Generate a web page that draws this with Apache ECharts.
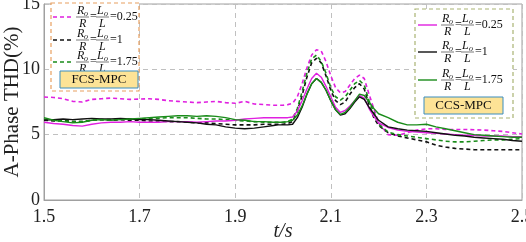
<!DOCTYPE html>
<html>
<head>
<meta charset="utf-8">
<script src="https://cdn.jsdelivr.net/npm/echarts@6/dist/echarts.min.js"></script>
<style>
  html, body { margin: 0; padding: 0; background: #fff; }
  #chart { width: 526px; height: 242px; }
</style>
</head>
<body>
<div id="chart"></div>
<script>
// time axis (s)
const times = [
  1.5, 1.52, 1.54, 1.56, 1.58, 1.6, 1.62, 1.64, 1.66, 1.68, 1.7, 1.72, 1.74, 1.76, 1.78, 1.8, 1.82, 1.84, 1.86, 1.88, 1.9, 1.92, 1.94, 1.96, 1.98,
  1.99, 2, 2.01, 2.02, 2.03, 2.04, 2.05, 2.06, 2.07, 2.08, 2.09, 2.1, 2.11, 2.12, 2.13, 2.14, 2.15, 2.16, 2.17, 2.18, 2.19, 2.2,
  2.22, 2.24, 2.26, 2.28, 2.3, 2.32, 2.34, 2.36, 2.38, 2.4, 2.42, 2.44, 2.46, 2.48, 2.5
];

// FCS-MPC (dashed)
const fcs025 = [
  7.88, 7.85, 7.75, 7.55, 7.5, 7.7, 7.75, 7.8, 7.75, 7.7, 7.72, 7.75, 7.7, 7.6, 7.55, 7.5, 7.45, 7.5, 7.55, 7.45, 7.4, 7.55, 7.35, 7.3, 7.25,
  7.25, 7.25, 7.3, 7.4, 7.9, 8.9, 10.1, 11.1, 11.5, 11.4, 10.6, 9.5, 8.6, 8.2, 8.3, 8.8, 9.3, 9.55, 9.3, 8.1, 7.0, 5.9,
  5.0, 4.95, 5.15, 5.35, 5.45, 5.45, 5.4, 5.4, 5.4, 5.38, 5.35, 5.3, 5.25, 5.15, 5.05
];
const fcs1 = [
  6.1, 6.05, 6.1, 6.0, 6.0, 6.1, 6.15, 6.1, 6.15, 6.1, 6.1, 6.05, 6.05, 6.0, 6.0, 5.95, 5.9, 5.9, 5.85, 5.8, 5.75, 5.75, 5.75, 5.8, 5.8,
  5.8, 5.8, 5.85, 6.0, 6.8, 8.0, 9.4, 10.5, 10.85, 10.5, 9.5, 8.4, 7.6, 7.3, 7.5, 8.1, 8.6, 8.9, 8.5, 7.3, 6.3, 5.7,
  5.15, 4.9, 4.75, 4.6, 4.45, 4.2, 4.05, 3.95, 3.9, 3.85, 3.85, 3.85, 3.85, 3.85, 3.85
];
const fcs175 = [
  6.2, 6.1, 6.05, 6.0, 6.0, 6.1, 6.15, 6.15, 6.2, 6.2, 6.2, 6.25, 6.25, 6.3, 6.3, 6.3, 6.25, 6.2, 6.2, 6.15, 6.1, 6.05, 6.0, 5.95, 5.95,
  5.95, 5.95, 6.0, 6.2, 7.0, 8.3, 9.7, 10.8, 11.1, 10.6, 9.7, 8.6, 7.9, 7.65, 7.9, 8.4, 8.9, 9.15, 8.8, 7.6, 6.7, 5.8,
  5.2, 5.0, 4.9, 4.8, 4.7, 4.6, 4.5, 4.45, 4.45, 4.5, 4.55, 4.6, 4.6, 4.65, 4.7
];

// CCS-MPC (solid)
const ccs025 = [
  5.95, 5.85, 5.8, 5.7, 5.65, 5.8, 5.9, 5.95, 5.95, 6.0, 5.95, 5.95, 5.95, 6.0, 6.0, 6.0, 5.95, 6.0, 6.05, 6.05, 6.1, 6.2, 6.25, 6.3, 6.3,
  6.3, 6.3, 6.3, 6.35, 6.8, 7.6, 8.5, 9.3, 9.7, 9.4, 8.7, 7.9, 7.1, 6.7, 6.85, 7.2, 7.6, 8.0, 7.8, 7.0, 6.4, 5.9,
  5.55, 5.35, 5.25, 5.2, 5.15, 5.1, 5.05, 5.0, 4.95, 4.95, 4.9, 4.9, 4.9, 4.85, 4.85
];
const ccs1 = [
  6.1, 6.15, 6.2, 6.15, 6.2, 6.25, 6.2, 6.2, 6.25, 6.2, 6.15, 6.15, 6.1, 6.05, 6.0, 5.95, 5.9, 5.8, 5.75, 5.6, 5.5, 5.45, 5.5, 5.6, 5.7,
  5.75, 5.75, 5.75, 5.8, 6.3, 7.1, 8.1, 8.9, 9.3, 9.0, 8.4, 7.6, 6.9, 6.5, 6.6, 7.0, 7.5, 7.9, 7.7, 7.1, 6.6, 6.1,
  5.6, 5.45, 5.35, 5.3, 5.25, 5.15, 5.05, 4.95, 4.9, 4.8, 4.75, 4.7, 4.65, 4.55, 4.5
];
const ccs175 = [
  6.3, 6.1, 6.0, 5.9, 5.95, 6.1, 6.15, 6.1, 6.15, 6.2, 6.25, 6.3, 6.35, 6.4, 6.45, 6.45, 6.4, 6.45, 6.4, 6.3, 6.15, 6.1, 6.0, 6.0, 5.95,
  5.95, 5.95, 6.0, 6.1, 6.5, 7.2, 8.1, 8.9, 9.3, 9.0, 8.4, 7.6, 6.9, 6.55, 6.7, 7.1, 7.6, 8.1, 8.0, 7.5, 7.0, 6.6,
  6.3, 5.95, 5.75, 5.75, 5.8, 5.6, 5.45, 5.3, 5.15, 5.0, 4.95, 4.9, 4.85, 4.8, 4.8
];

const ratios = ['0.25', '1', '1.75'];
const xTicks = [1.5, 1.7, 1.9, 2.1, 2.3, 2.5];
const colors = ['#e020e0', '#111111', '#1a8c1a'];

const SERIF = 'Liberation Serif';

function pairs(values) {
  return times.map((t, i) => [t, values[i]]);
}

function makeSeries(name, values, color, dashed) {
  return {
    name: name,
    type: 'line',
    data: pairs(values),
    showSymbol: false,
    smooth: false,
    lineStyle: {
      color: color,
      width: dashed ? 1.6 : 1.4,
      type: dashed ? [4, 3] : 'solid',
    },
  };
}

// one legend row: line sample + Ro/R = Lo/L = k
function legendEntry(x0, yc, color, dashed, ratio) {
  const italic = { fontFamily: SERIF, fontStyle: 'italic', fontSize: 12, fill: '#111' };
  const els = [
    {
      type: 'line',
      shape: { x1: x0, y1: yc, x2: x0 + 19, y2: yc },
      style: { stroke: color, lineWidth: dashed ? 1.6 : 1.4, lineDash: dashed ? [4, 3] : null },
    },
  ];
  [['R', x0 + 24], ['L', x0 + 44]].forEach(([s, fx]) => {
    els.push({ type: 'text', x: fx, y: yc - 0.5, style: Object.assign({ text: s, verticalAlign: 'bottom' }, italic) });
    els.push({ type: 'text', x: fx + 7, y: yc + 0.5, style: { text: 'o', fontFamily: SERIF, fontStyle: 'italic', fontSize: 8, fill: '#111', verticalAlign: 'bottom' } });
    els.push({ type: 'line', shape: { x1: fx - 1, y1: yc, x2: fx + 12, y2: yc }, style: { stroke: '#222', lineWidth: 0.6 } });
    els.push({ type: 'text', x: fx + 2, y: yc + 0.5, style: Object.assign({ text: s, verticalAlign: 'top' }, italic) });
  });
  els.push({ type: 'text', x: x0 + 37, y: yc, style: { text: '=', fontFamily: SERIF, fontSize: 12, fill: '#111', verticalAlign: 'middle' } });
  els.push({ type: 'text', x: x0 + 57, y: yc, style: { text: '=' + ratio, fontFamily: SERIF, fontSize: 12, fill: '#111', verticalAlign: 'middle' } });
  return els;
}

function legendBox(x, y, w, h, stroke, rows, x0, tag, tagBox) {
  let els = [
    { type: 'rect', shape: { x: x, y: y, width: w, height: h }, style: { fill: '#fff', stroke: stroke, lineWidth: 1.2, lineDash: [4, 3] } },
  ];
  rows.forEach((r, i) => {
    els = els.concat(legendEntry(x0, r.y, colors[i], r.dashed, ratios[i]));
  });
  els.push({
    type: 'rect',
    shape: tagBox,
    style: { fill: '#fde396', stroke: '#3b8dbf', lineWidth: 1 },
  });
  els.push({
    type: 'text',
    x: tagBox.x + tagBox.width / 2,
    y: tagBox.y + tagBox.height / 2,
    style: { text: tag, fontFamily: SERIF, fontSize: 13, fill: '#111', align: 'center', verticalAlign: 'middle' },
  });
  return els;
}

const chart = echarts.init(document.getElementById('chart'));

const graphics = [].concat(
  legendBox(51, 3, 88, 88, '#e8a060',
    [{ y: 17, dashed: true }, { y: 40, dashed: true }, { y: 62, dashed: true }],
    53, 'FCS-MPC', { x: 60, y: 71, width: 78, height: 17 }),
  legendBox(415, 9, 98, 109, '#a9b373',
    [{ y: 25, dashed: false }, { y: 52, dashed: false }, { y: 80, dashed: false }],
    418, 'CCS-MPC', { x: 424, y: 97, width: 79, height: 17 })
);

const option = {
  animation: false,
  backgroundColor: '#fff',
  grid: {
    left: 44,
    right: 4,
    top: 4,
    bottom: 42,
    containLabel: false,
    outerBoundsMode: 'none',
    show: true,
    borderColor: '#a0a0a0',
    borderWidth: 1,
  },
  xAxis: {
    type: 'value',
    min: 1.5,
    max: 2.5,
    name: 't/s',
    nameLocation: 'middle',
    nameGap: 22,
    nameMoveOverlap: false,
    nameTextStyle: { fontFamily: SERIF, fontStyle: 'italic', fontSize: 20, color: '#222' },
    axisLine: { lineStyle: { color: '#a0a0a0' } },
    axisTick: { show: false, customValues: xTicks },
    axisLabel: {
      customValues: xTicks,
      fontFamily: SERIF,
      fontSize: 18,
      color: '#222',
      margin: 8,
      formatter: (v) => v.toFixed(1),
    },
    splitLine: { show: true, lineStyle: { color: '#c0c0c0', type: [5, 4] } },
  },
  yAxis: {
    type: 'value',
    min: 0,
    max: 15,
    interval: 5,
    name: 'A-Phase THD(%)',
    nameLocation: 'middle',
    nameGap: 21,
    nameMoveOverlap: false,
    nameTextStyle: { fontFamily: SERIF, fontSize: 21, color: '#222' },
    axisLine: { show: true, lineStyle: { color: '#a0a0a0' } },
    axisTick: { show: false },
    axisLabel: { fontFamily: SERIF, fontSize: 18, color: '#222', margin: 4 },
    splitLine: { show: true, lineStyle: { color: '#c0c0c0', type: [5, 4] } },
  },
  series: [
    makeSeries('FCS 0.25', fcs025, colors[0], true),
    makeSeries('FCS 1', fcs1, colors[1], true),
    makeSeries('FCS 1.75', fcs175, colors[2], true),
    makeSeries('CCS 0.25', ccs025, colors[0], false),
    makeSeries('CCS 1', ccs1, colors[1], false),
    makeSeries('CCS 1.75', ccs175, colors[2], false),
  ],
  graphic: { elements: graphics.map((e) => Object.assign({ z: 100 }, e)) },
};

chart.setOption(option);
</script>
</body>
</html>
